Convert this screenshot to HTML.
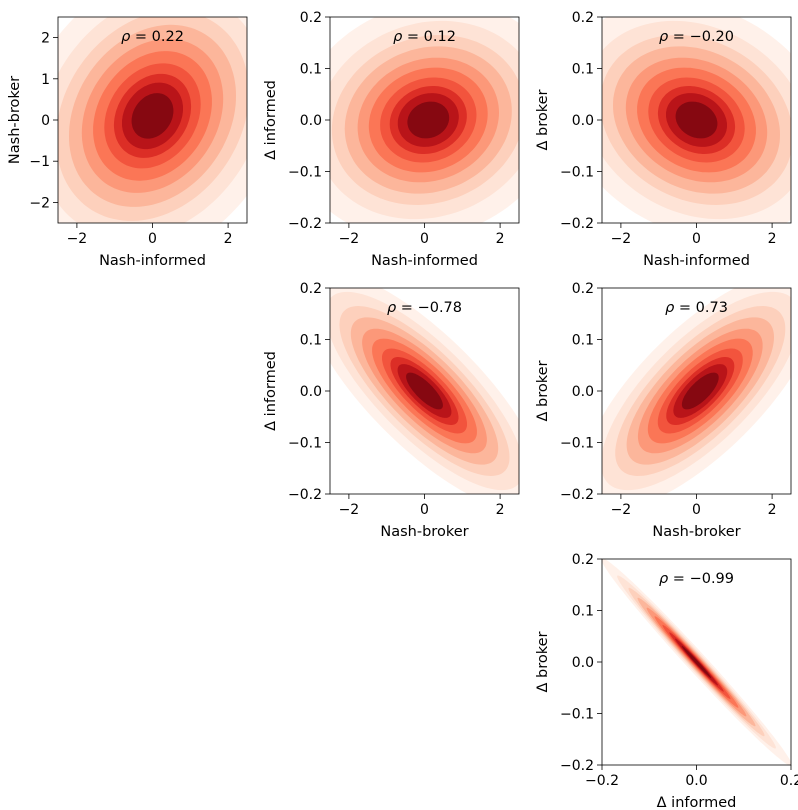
<!DOCTYPE html>
<html><head><meta charset="utf-8">
<style>
html,body{margin:0;padding:0;background:#fff;}
svg{display:block;font-family:"DejaVu Sans","Liberation Sans",sans-serif;}
</style></head>
<body>
<svg id="fig" width="798" height="810" viewBox="0 0 798 810"></svg>
<script>
// Panel data
const panelNames = ["kde-nashinf-nashbrk","kde-nashinf-dinf","kde-nashinf-dbrk","kde-nashbrk-dinf","kde-nashbrk-dbrk","kde-dinf-dbrk"];
const rhoValues = [0.22, 0.12, -0.20, -0.78, 0.73, -0.99];
const rhoLabels = ["0.22","0.12","\u22120.20","\u22120.78","0.73","\u22120.99"];
const xLabels = ["Nash-informed","Nash-informed","Nash-informed","Nash-broker","Nash-broker","\u0394 informed"];
const yLabels = ["Nash-broker","\u0394 informed","\u0394 broker","\u0394 informed","\u0394 broker","\u0394 broker"];
const xSd = [0.85, 0.85, 0.85, 0.75, 0.75, 0.06];
const ySd = [0.85, 0.055, 0.055, 0.055, 0.055, 0.06];
const xMean = [0, 0.1, 0, 0, 0.1, 0];
const yMean = [0.1, 0, 0, 0, 0, 0];
const xTickVals = [[-2,0,2],[-2,0,2],[-2,0,2],[-2,0,2],[-2,0,2],[-0.2,0.0,0.2]];
const xTickText = [["\u22122","0","2"],["\u22122","0","2"],["\u22122","0","2"],["\u22122","0","2"],["\u22122","0","2"],["\u22120.2","0.0","0.2"]];
const yTickVals = [[-2,-1,0,1,2],[-0.2,-0.1,0,0.1,0.2],[-0.2,-0.1,0,0.1,0.2],[-0.2,-0.1,0,0.1,0.2],[-0.2,-0.1,0,0.1,0.2],[-0.2,-0.1,0,0.1,0.2]];
const yTickText = [["\u22122","\u22121","0","1","2"],["\u22120.2","\u22120.1","0.0","0.1","0.2"],["\u22120.2","\u22120.1","0.0","0.1","0.2"],["\u22120.2","\u22120.1","0.0","0.1","0.2"],["\u22120.2","\u22120.1","0.0","0.1","0.2"],["\u22120.2","\u22120.1","0.0","0.1","0.2"]];
const xRange = [[-2.5,2.5],[-2.5,2.5],[-2.5,2.5],[-2.5,2.5],[-2.5,2.5],[-0.2,0.2]];
const yRange = [[-2.5,2.5],[-0.2,0.2],[-0.2,0.2],[-0.2,0.2],[-0.2,0.2],[-0.2,0.2]];
// contour radii (in sd units), outermost first
const levelRadii = [4.2,3.5,3.0,2.6,2.2,1.85,1.5,1.2,0.95,0.65];
const levelColors = ["#fff1ea","#fee3d6","#fdd0bc","#fcb69b","#fc9879","#fb7656","#f2543d","#dc2e26","#b91419","#860811"];

const layout = [[58,17],[330,17],[602,17],[330,288],[602,288],[602,559]];
const W = 189, H = 206;
const NS = "http://www.w3.org/2000/svg";
const svg = document.getElementById('fig');
function mk(tag, attrs, parent){const e=document.createElementNS(NS,tag);for(const k in attrs)e.setAttribute(k,attrs[k]);(parent||svg).appendChild(e);return e;}

const defs = mk('defs',{});
for(let p=0;p<6;p++){
  const [L,T]=layout[p];
  const g = mk('g',{});
  
  
  const cp = mk('clipPath',{id:'c'+p},defs);
  mk('rect',{x:L,y:T,width:W,height:H},cp);
  const sx = v => L + (v - xRange[p][0])/(xRange[p][1]-xRange[p][0])*W;
  const sy = v => T + H - (v - yRange[p][0])/(yRange[p][1]-yRange[p][0])*H;
  const cg = mk('g',{'clip-path':'url(#c'+p+')'},g);
  const rho = rhoValues[p], sq = Math.sqrt(1-rho*rho);
  const thin = p===5;
  for(let k=0;k<levelRadii.length;k++){
    let r = levelRadii[k];
    if(thin) r = r*0.8;
    let pts=[];
    for(let i=0;i<120;i++){
      const t=i/120*2*Math.PI;
      const u=Math.cos(t), w=Math.sin(t);
      const xv = xMean[p] + r*xSd[p]*u;
      const yv = yMean[p] + r*ySd[p]*(rho*u + sq*w);
      pts.push(sx(xv).toFixed(1)+','+sy(yv).toFixed(1));
    }
    const poly = mk('polygon',{points:pts.join(' '),fill:levelColors[k]},cg);
    
    
  }
  const frame = mk('rect',{x:L,y:T,width:W,height:H,fill:'none',stroke:'#000','stroke-width':0.8},g);
  
  
  xTickVals[p].forEach((v,i)=>{
    const x=sx(v);
    mk('line',{x1:x,x2:x,y1:T+H,y2:T+H+5,stroke:'#000','stroke-width':0.8},g);
    const t=mk('text',{x:x,y:T+H+20,'font-size':14,'text-anchor':'middle',fill:'#000'},g);
    t.textContent=xTickText[p][i];
    
    
  });
  yTickVals[p].forEach((v,i)=>{
    const y=sy(v);
    mk('line',{x1:L-5,x2:L,y1:y,y2:y,stroke:'#000','stroke-width':0.8},g);
    const t=mk('text',{x:L-8,y:y+5,'font-size':14,'text-anchor':'end',fill:'#000'},g);
    t.textContent=yTickText[p][i];
    
    
  });
  const xl=mk('text',{x:L+W/2,y:T+H+42,'font-size':14.5,'text-anchor':'middle',fill:'#000'},g);
  xl.textContent=xLabels[p];
  
  
  const yx = p===0 ? L-39 : L-55;
  const yl=mk('text',{x:yx,y:T+H/2,'font-size':14.5,'text-anchor':'middle',fill:'#000',transform:'rotate(-90 '+yx+' '+(T+H/2)+')'},g);
  yl.textContent=yLabels[p];
  
  
  const rt=mk('text',{x:L+W/2,y:T+24,'font-size':14.5,'text-anchor':'middle',fill:'#000'},g);
  rt.innerHTML='<tspan font-style="italic">\u03c1</tspan> = '+rhoLabels[p];
  
  
}
</script>
</body></html>
